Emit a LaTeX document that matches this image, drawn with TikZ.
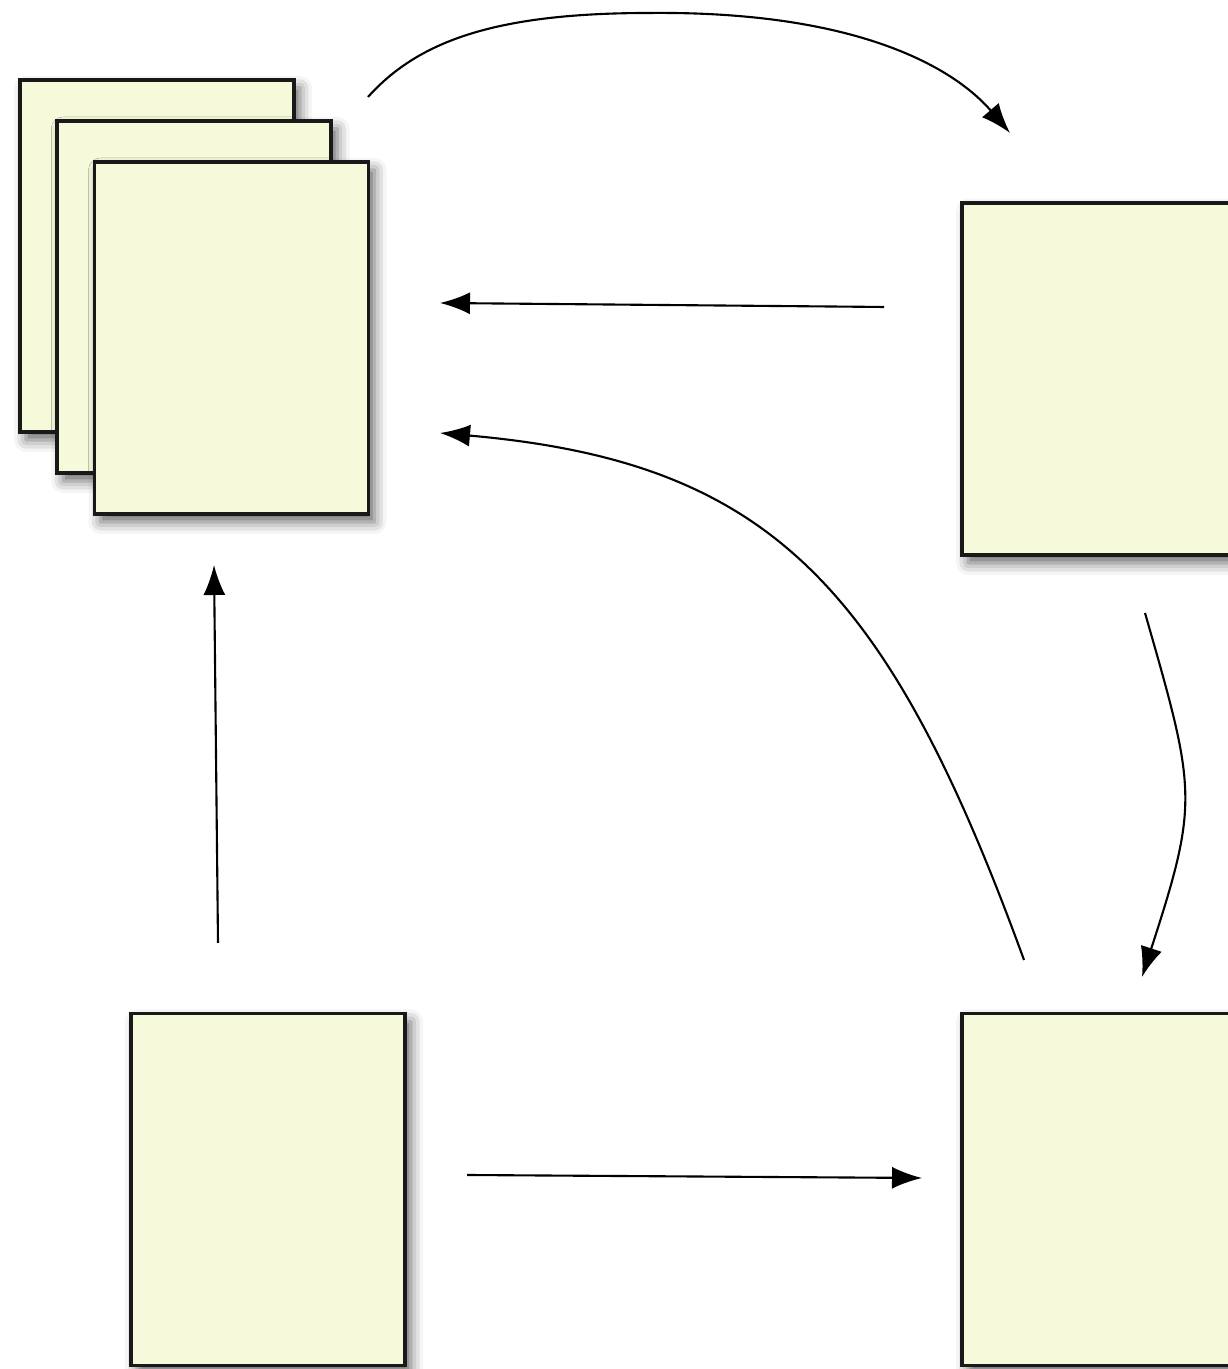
\documentclass[tikz,border=0pt]{standalone}
\usepackage{amssymb, amsmath}
\usepackage{tikz}
\usetikzlibrary{arrows.meta, shadows.blur}

\definecolor{paper}{RGB}{246,250,219}

\begin{document}
\begin{tikzpicture}[
    sheet/.style={draw=black!90, line width=1.1pt, fill=paper, inner sep=0pt, outer sep=0pt,
      minimum width=2.74cm, minimum height=3.52cm,
      blur shadow={shadow xshift=0.06cm, shadow yshift=-0.08cm, shadow blur radius=0.12cm, shadow opacity=60}},
    link/.style={line width=0.6pt, -{Latex[length=0.3cm, width=0.22cm]}}
  ]
    \useasboundingbox (0,0) rectangle (12.28,13.69);
    % stack of sheets
    \foreach \i in {1,2,3} {
      \node[sheet] (doc\i) at (1.57+0.3725*\i-0.3725, 11.13-0.41*\i+0.41) {};
    }
    \node[sheet] (right top) at (10.99,9.90) {};
    \node[sheet] (right bottom) at (10.99,1.795) {};
    \node[sheet] (left bottom) at (2.68,1.795) {};

    % free ends of the connectors
    \coordinate (a) at (3.68,12.72);
    \coordinate (a top) at (6.5,13.56);
    \coordinate (b) at (10.10,12.36);
    \coordinate (c) at (8.84,10.62);
    \coordinate (d) at (4.40,10.66);
    \coordinate (e) at (10.24,4.09);
    \coordinate (f) at (4.40,9.36);
    \coordinate (g) at (11.45,7.56);
    \coordinate (h) at (11.42,3.92);
    \coordinate (k) at (2.18,4.26);
    \coordinate (l) at (2.14,8.04);
    \coordinate (m) at (4.67,1.94);
    \coordinate (n) at (9.22,1.91);

    \draw[link] (a) .. controls (4.2,13.3) and (5.0,13.56) .. (a top)
      .. controls (8.6,13.58) and (9.55,13.0) .. (b);
    \draw[link] (c) -- (d);
    \draw[link] (e) .. controls (8.87,7.85) and (7.69,9.07) .. (f);
    \draw[link] (g) to[out=-74, in=72, looseness=1.3] (h);
    \draw[link] (k) -- (l);
    \draw[link] (m) -- (n);
  \end{tikzpicture}
\end{document}
